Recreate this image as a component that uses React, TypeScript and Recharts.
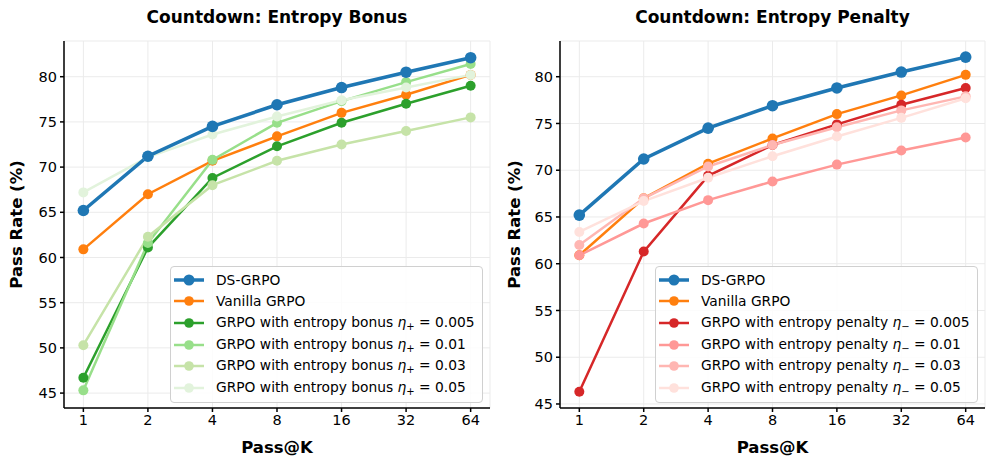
import { CartesianGrid, Label, Line, LineChart, XAxis, YAxis } from 'recharts';

const passK = [1, 2, 4, 8, 16, 32, 64];
const kTicks = [1, 2, 4, 8, 16, 32, 64];
const rateTicks = [45, 50, 55, 60, 65, 70, 75, 80];

const dsGrpo = [65.2, 71.2, 74.5, 76.9, 78.8, 80.5, 82.1];
const vanillaGrpo = [60.9, 67.0, 70.7, 73.4, 76.0, 78.0, 80.2];

const bonus005 = [46.7, 61.1, 68.8, 72.3, 74.9, 77.0, 79.0];
const bonus01 = [45.3, 61.6, 70.8, 74.9, 77.3, 79.4, 81.4];
const bonus03 = [50.3, 62.3, 68.0, 70.7, 72.5, 74.0, 75.5];
const bonus05 = [67.2, 71.1, 73.6, 75.6, 77.4, 78.8, 80.2];

const penalty005 = [46.3, 61.3, 69.4, 72.7, 74.9, 77.0, 78.8];
const penalty01 = [60.9, 64.3, 66.8, 68.8, 70.6, 72.1, 73.5];
const penalty03 = [62.0, 67.0, 70.4, 72.7, 74.6, 76.4, 77.9];
const penalty05 = [63.4, 66.7, 69.2, 71.5, 73.6, 75.6, 77.7];

const FONT = '"DejaVu Sans", sans-serif';

type Series = { key: string; name: string; eta?: string; sub?: string; color: string; values: number[]; big?: boolean };

const bonusSeries: Series[] = [
  { key: 'ds', name: 'DS-GRPO', color: '#1f77b4', values: dsGrpo, big: true },
  { key: 'vanilla', name: 'Vanilla GRPO', color: '#ff7f0e', values: vanillaGrpo },
  { key: 'b005', name: 'GRPO with entropy bonus ', sub: '+', eta: '0.005', color: '#2ca02c', values: bonus005 },
  { key: 'b01', name: 'GRPO with entropy bonus ', sub: '+', eta: '0.01', color: '#98df8a', values: bonus01 },
  { key: 'b03', name: 'GRPO with entropy bonus ', sub: '+', eta: '0.03', color: '#c6e3a8', values: bonus03 },
  { key: 'b05', name: 'GRPO with entropy bonus ', sub: '+', eta: '0.05', color: '#e2f3dc', values: bonus05 },
];

const penaltySeries: Series[] = [
  { key: 'ds', name: 'DS-GRPO', color: '#1f77b4', values: dsGrpo, big: true },
  { key: 'vanilla', name: 'Vanilla GRPO', color: '#ff7f0e', values: vanillaGrpo },
  { key: 'p005', name: 'GRPO with entropy penalty ', sub: '\u2212', eta: '0.005', color: '#d62728', values: penalty005 },
  { key: 'p01', name: 'GRPO with entropy penalty ', sub: '\u2212', eta: '0.01', color: '#ff9896', values: penalty01 },
  { key: 'p03', name: 'GRPO with entropy penalty ', sub: '\u2212', eta: '0.03', color: '#ffb6b2', values: penalty03 },
  { key: 'p05', name: 'GRPO with entropy penalty ', sub: '\u2212', eta: '0.05', color: '#ffe1dc', values: penalty05 },
];

function buildRows(series: Series[]) {
  return passK.map((k, i) => {
    const row: Record<string, number> = { k };
    series.forEach((s) => (row[s.key] = s.values[i]));
    return row;
  });
}

function LegendBox({ series, left, width }: { series: Series[]; left: number; width: number }) {
  return (
    <div
      style={{
        position: 'absolute',
        left,
        top: 266,
        width,
        boxSizing: 'border-box',
        border: '1px solid #d0d0d0',
        borderRadius: 4,
        background: 'rgba(255,255,255,0.85)',
        padding: '2px 6px 3px 3px',
        fontFamily: FONT,
        fontSize: 13.8,
        color: '#000',
      }}
    >
      {series.map((s) => (
        <div key={s.key} style={{ display: 'flex', alignItems: 'center', height: 21.6, whiteSpace: 'nowrap' }}>
          <svg width={30} height={12} style={{ marginRight: 12 }}>
            <line x1={0} y1={6} x2={30} y2={6} stroke={s.color} strokeWidth={s.big ? 3.5 : 2.5} />
            <circle cx={15} cy={6} r={s.big ? 5.5 : 4.8} fill={s.color} />
          </svg>
          <span>
            {s.name}
            {s.eta && (
              <>
                <i>η</i>
                <sub style={{ fontSize: 10, verticalAlign: -3 }}>{s.sub}</sub>
                {' = ' + s.eta}
              </>
            )}
          </span>
        </div>
      ))}
    </div>
  );
}

function Panel({
  title,
  series,
  yDomain,
  yAxisWidth,
  rightMargin,
  legendLeft,
  legendWidth,
}: {
  title: string;
  series: Series[];
  yDomain: [number, number];
  yAxisWidth: number;
  rightMargin: number;
  legendLeft: number;
  legendWidth: number;
}) {
  const rows = buildRows(series);
  // draw DS-GRPO last so it sits on top
  const drawOrder = [...series.slice(1), series[0]];
  const axisTick = { fill: '#000', fontSize: 14.5, fontFamily: FONT };
  return (
    <div style={{ position: 'relative', width: 498, height: 467 }}>
      <div
        style={{
          position: 'absolute',
          top: 7,
          left: yAxisWidth,
          width: 498 - yAxisWidth - rightMargin,
          textAlign: 'center',
          fontFamily: FONT,
          fontWeight: 'bold',
          fontSize: 17,
        }}
      >
        {title}
      </div>
      <LineChart width={498} height={467} data={rows} margin={{ top: 41, right: rightMargin, left: 0, bottom: 0 }}>
        <CartesianGrid stroke="#ebebeb" strokeWidth={1} />
        <XAxis
          dataKey="k"
          type="number"
          scale="log"
          domain={[Math.pow(2, -0.3), Math.pow(2, 6.3)]}
          ticks={kTicks}
          allowDataOverflow
          height={59}
          tick={axisTick}
          tickSize={4}
          tickMargin={3}
          stroke="#000"
          strokeWidth={1.5}
          interval={0}
        >
          <Label value="Pass@K" position="insideBottom" offset={14} style={{ fontFamily: FONT, fontWeight: 'bold', fontSize: 16.5, fill: '#000' }} />
        </XAxis>
        <YAxis
          type="number"
          domain={yDomain}
          ticks={rateTicks}
          allowDataOverflow
          width={yAxisWidth}
          tick={axisTick}
          tickSize={4}
          tickMargin={3}
          stroke="#000"
          strokeWidth={1.5}
          interval={0}
        >
          <Label
            value="Pass Rate (%)"
            angle={-90}
            position="insideLeft"
            offset={16}
            style={{ textAnchor: 'middle', fontFamily: FONT, fontWeight: 'bold', fontSize: 16.5, fill: '#000' }}
          />
        </YAxis>
        {drawOrder.map((s) => (
          <Line
            key={s.key}
            dataKey={s.key}
            name={s.name}
            type="linear"
            stroke={s.color}
            strokeWidth={s.big ? 3.5 : 2.5}
            dot={{ r: s.big ? 5.8 : 5, fill: s.color, stroke: s.color, strokeWidth: 0 }}
            activeDot={false}
            isAnimationActive={false}
          />
        ))}
      </LineChart>
      <LegendBox series={series} left={legendLeft} width={legendWidth} />
    </div>
  );
}

export default function App() {
  return (
    <div style={{ position: 'absolute', left: 0, top: 0, width: 996, height: 467, display: 'flex', background: '#fff' }}>
      <style>{'body{margin:0}'}</style>
      <Panel
        title="Countdown: Entropy Bonus"
        series={bonusSeries}
        yDomain={[43.35, 83.95]}
        yAxisWidth={64}
        rightMargin={8}
        legendLeft={170}
        legendWidth={313}
      />
      <Panel
        title="Countdown: Entropy Penalty"
        series={penaltySeries}
        yDomain={[44.57, 83.82]}
        yAxisWidth={62}
        rightMargin={11}
        legendLeft={157}
        legendWidth={323}
      />
    </div>
  );
}
